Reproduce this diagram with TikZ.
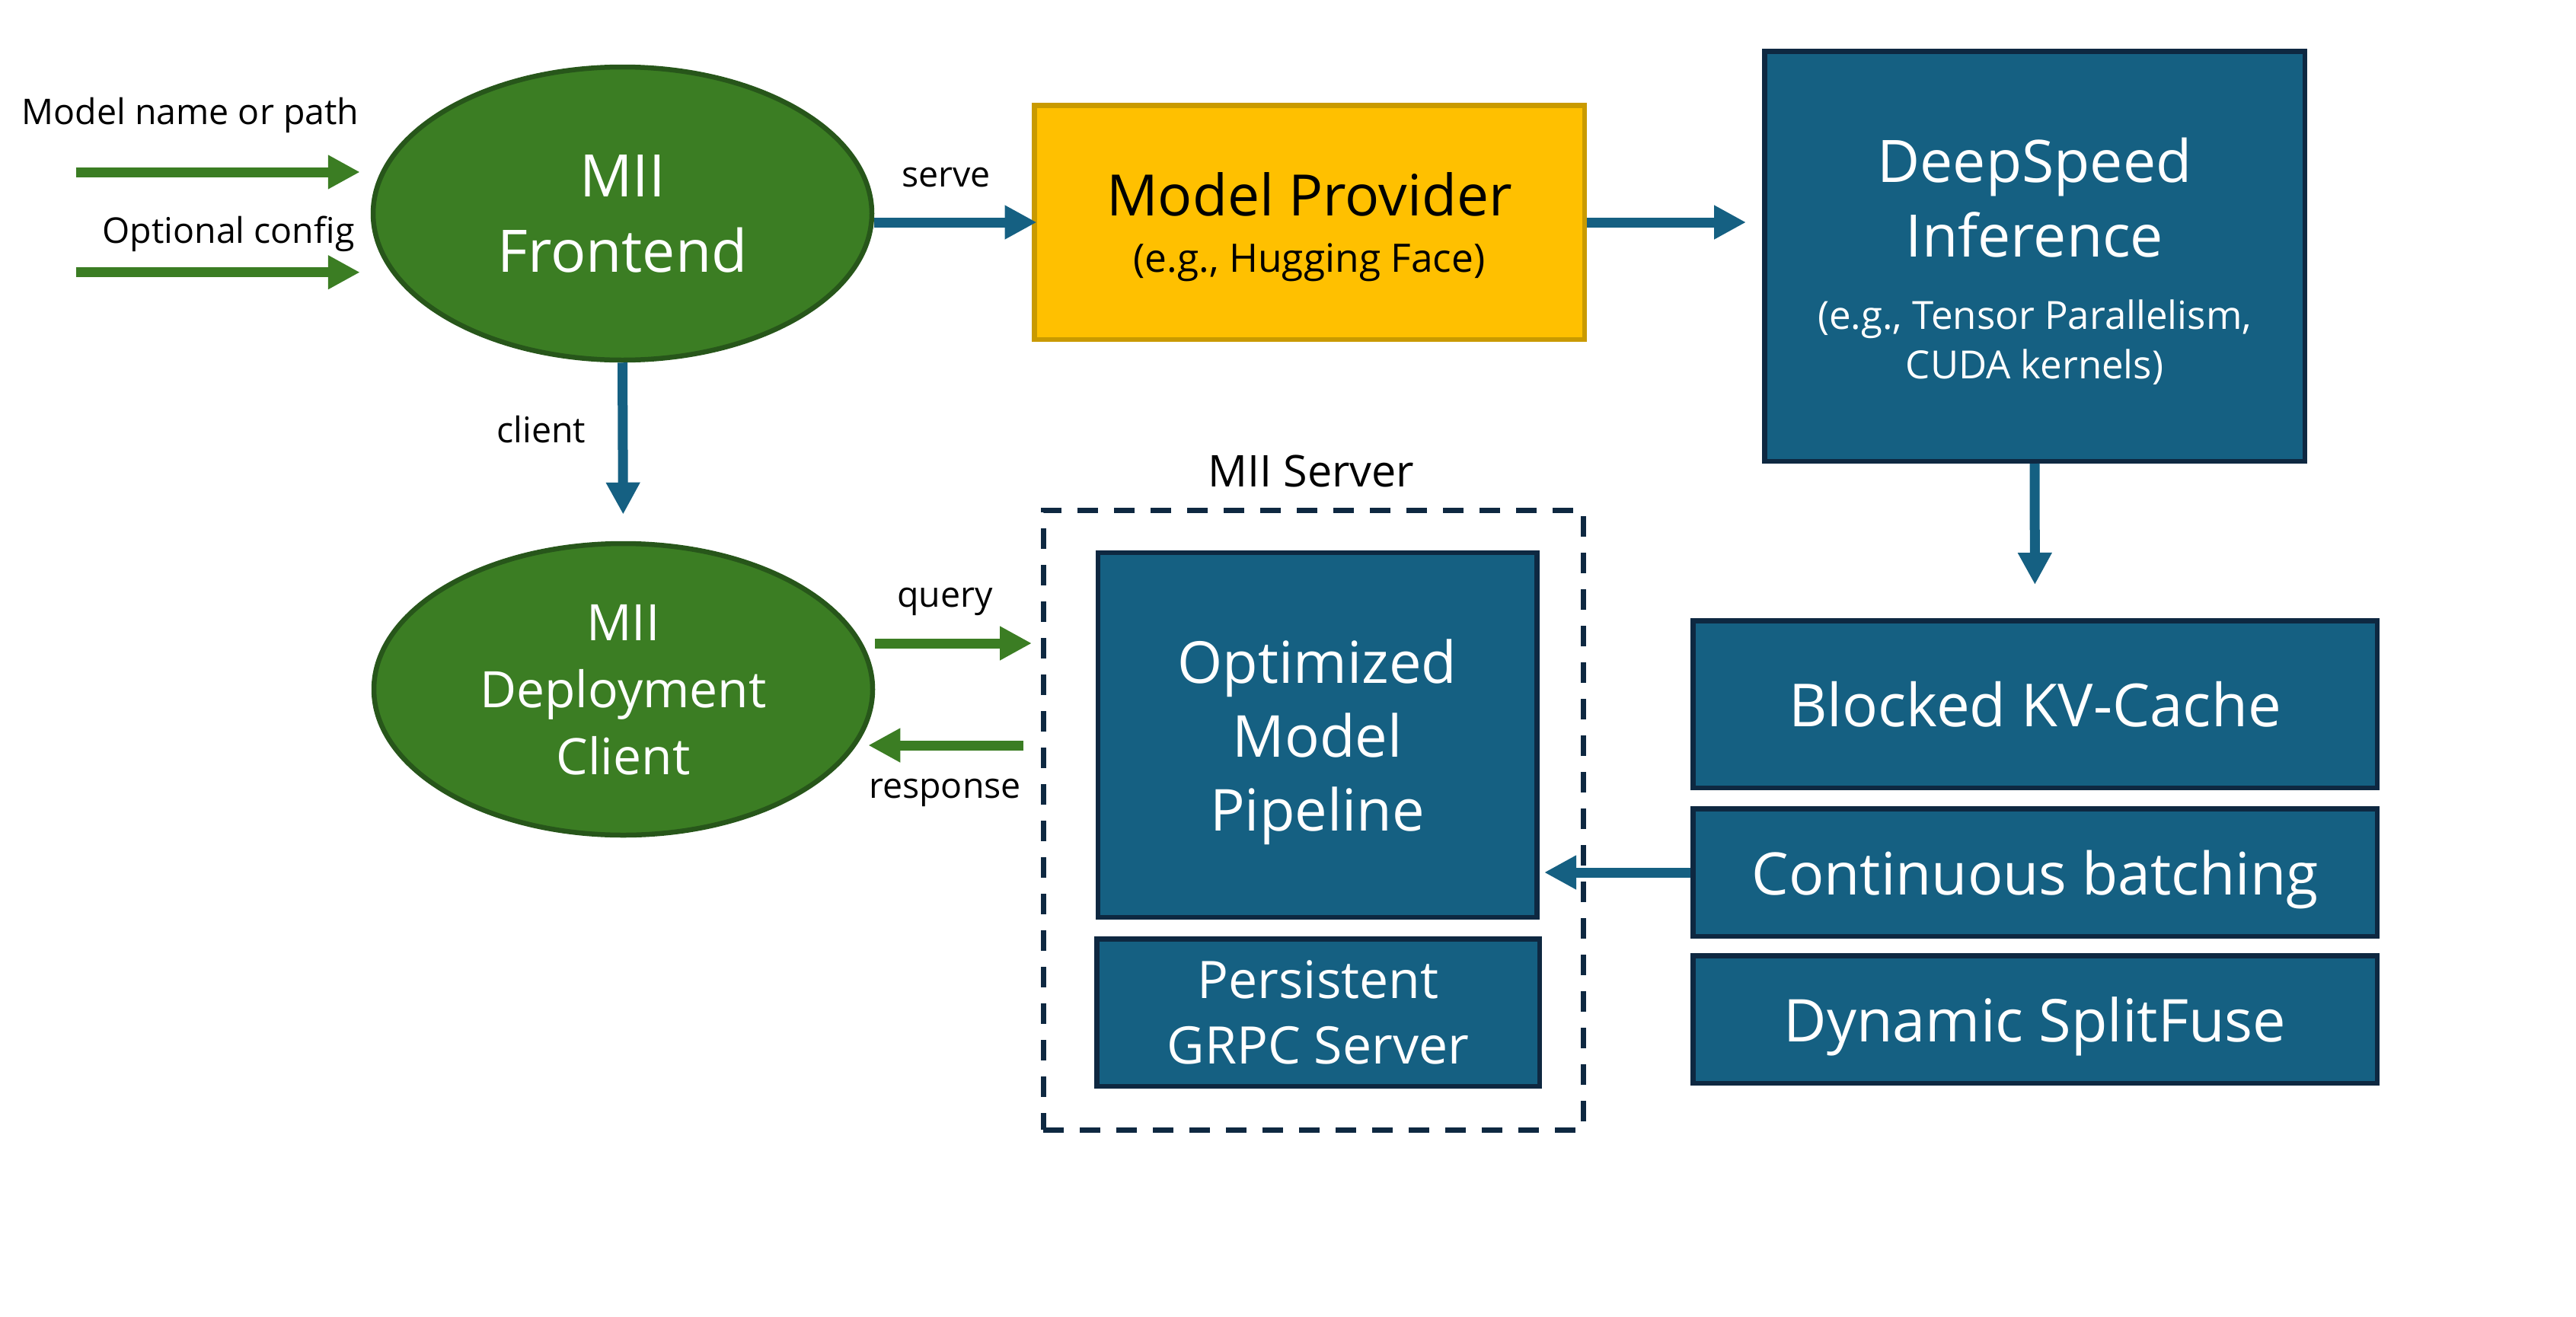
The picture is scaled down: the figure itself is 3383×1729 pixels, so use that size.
\documentclass[tikz,border=0pt]{standalone}
\usepackage{fontspec}
\setmainfont{Open Sans}
\usetikzlibrary{arrows.meta,shapes.geometric}
\definecolor{navyc}{HTML}{0E2841}
\definecolor{bluec}{HTML}{156082}
\definecolor{greenc}{HTML}{3B7D23}
\definecolor{dgreenc}{HTML}{27561A}
\definecolor{goldc}{HTML}{FFC000}
\definecolor{dgoldc}{HTML}{C99A00}
\tikzset{
  boxbase/.style={rectangle, line width=6.5pt, inner sep=0pt, align=center, text depth=0pt},
  bluebox/.style={boxbase, draw=navyc, fill=bluec, text=white},
  goldbox/.style={boxbase, draw=dgoldc, fill=goldc, text=black},
  greenell/.style={ellipse, line width=6.5pt, inner sep=0pt, draw=dgreenc, fill=greenc, text=white, align=center, text depth=0pt},
  dashbox/.style={rectangle, draw=navyc, line width=7pt, dash pattern=on 27pt off 21pt, inner sep=0pt},
  lbl/.style={font=\fontsize{46.5}{55}\selectfont, text=black, inner sep=0pt, anchor=base},
  barrow/.style={draw=bluec, line width=13pt, -{Triangle[length=42pt,width=42pt]}},
  garrow/.style={draw=greenc, line width=13pt, -{Triangle[length=42pt,width=42pt]}},
}
\begin{document}
\begin{tikzpicture}[x=1pt,y=-1pt]
\useasboundingbox (0,0) rectangle (3383,1729);
\fill[white] (0,0) rectangle (3383,1729);

% ellipses
\node[greenell, minimum width=655pt, minimum height=385pt, font=\fontsize{77}{99}\selectfont] (fe) at (817.5,280.5) {MII\\Frontend};
\node[greenell, minimum width=655pt, minimum height=383pt, font=\fontsize{66}{88}\selectfont] (cl) at (818.5,905.5) {MII\\Deployment\\Client};

% model provider
\node[goldbox, minimum width=722.5pt, minimum height=307.5pt, font=\fontsize{75}{74}\selectfont] (mp) at (1719.5,292) {Model Provider\\{\fontsize{51.5}{60}\selectfont (e.g., Hugging Face)}};

% deepspeed
\node[bluebox, minimum width=709.5pt, minimum height=538.5pt] (ds) at (2672,336.5) {};
\node[text=white, inner sep=0pt, align=center, text depth=0pt, font=\fontsize{77}{98.5}\selectfont] (dst) at (2672,259) {DeepSpeed\\Inference};
\node[text=white, inner sep=0pt, align=center, text depth=0pt, font=\fontsize{51}{64.5}\selectfont] (dse) at (2672,445.5) {(e.g., Tensor Parallelism,\\CUDA kernels)};

% right column
\node[bluebox, minimum width=898.5pt, minimum height=219.5pt, font=\fontsize{78}{90}\selectfont] (kv) at (2672.5,925) {Blocked KV-Cache};
\node[bluebox, minimum width=898.5pt, minimum height=167.5pt, font=\fontsize{77}{90}\selectfont] (cb) at (2672.5,1146) {Continuous batching};
\node[bluebox, minimum width=898.5pt, minimum height=167.5pt, font=\fontsize{77.5}{90}\selectfont] (dsf) at (2672.5,1339) {Dynamic SplitFuse};

% server
\node[dashbox, minimum width=709pt, minimum height=814pt] (sv) at (1724.5,1077) {};
\node[lbl, font=\fontsize{57.5}{66}\selectfont] (svl) at (1722,639) {MII Server};
\node[bluebox, minimum width=576.5pt, minimum height=478.8pt, font=\fontsize{76}{97}\selectfont] (opt) at (1730,965.4) {Optimized\\Model\\Pipeline};
\node[bluebox, minimum width=581.5pt, minimum height=193.5pt, font=\fontsize{68}{86}\selectfont] (ps) at (1731,1330) {Persistent\\GRPC Server};

% inputs
\coordinate (in1) at (99.5,226);
\coordinate (in2) at (99.5,357.7);
\node[lbl] (l1) at (250,163) {Model name or path};
\node[lbl] (l2) at (300,319) {Optional config};
\draw[garrow, shorten >=14pt] (in1) -- (in1 -| fe.west);
\draw[garrow, shorten >=14pt] (in2) -- (in2 -| fe.west);

% connectors
\draw[barrow, shorten >=-6.5pt] (mp.west -| fe.east) -- (mp.west);
\node[lbl] (ls) at (1242.5,245) {serve};
\draw[barrow, shorten >=21pt] (mp.east) -- (mp.east -| ds.west);
\draw[barrow, shorten >=35pt] (fe.south) -- (cl.north);
\node[lbl] (lc) at (711,581.7) {client};
\draw[barrow, shorten >=44pt] (ds.south) -- (kv.north);
\draw[barrow, shorten >=6.5pt] (cb.west) -- (cb.west -| opt.east);

\draw[garrow, shorten >=11.5pt] ([yshift=60.5pt]cl.east) -- ([yshift=60.5pt]cl.east -| sv.west);
\node[lbl] (lq) at (1241,797) {query};
\draw[garrow, shorten <=22.5pt, shorten >=-9pt] ([yshift=-73.5pt]cl.east -| sv.west) -- ([yshift=-73.5pt]cl.east);
\node[lbl] (lr) at (1241,1048.5) {response};
\end{tikzpicture}
\end{document}
